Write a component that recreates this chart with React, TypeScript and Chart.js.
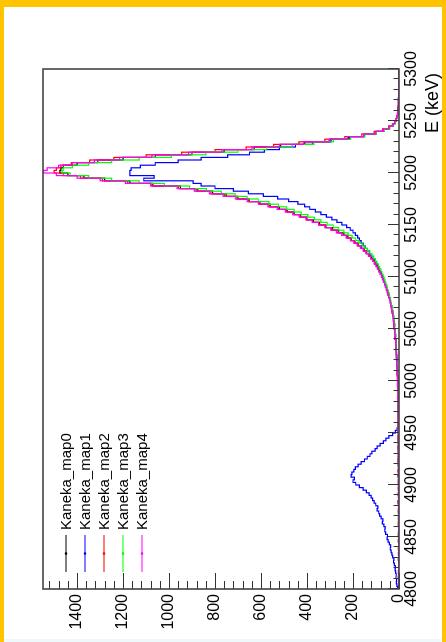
import { useEffect, useRef } from "react";
import { Chart, registerables } from "chart.js";

Chart.register(...registerables);

// Energy binning (keV)
const E_MIN = 4800;
const E_MAX = 5300;
const BIN_WIDTH = 2.5;
const COUNT_MAX = 1548;

const seriesNames = ["Kaneka_map0", "Kaneka_map1", "Kaneka_map2", "Kaneka_map3", "Kaneka_map4"];
const seriesColors = ["#000000", "#0000ff", "#ff0000", "#00ff00", "#ff00ff"];

const energyTicks = [4800, 4850, 4900, 4950, 5000, 5050, 5100, 5150, 5200, 5250, 5300];
const countTicks = [0, 200, 400, 600, 800, 1000, 1200, 1400];

// Bin contents, 2.5 keV bins from 4800 keV
const map0 = [
  2, 1, 0, 2, 1, 3, 1, 2, 0, 1, 2, 1, 3, 2, 1, 0, 2, 1, 2, 3,
  1, 2, 1, 0, 2, 3, 1, 2, 1, 2, 3, 2, 1, 2, 4, 2, 1, 3, 2, 2,
  1, 3, 2, 2, 4, 1, 3, 2, 3, 2, 4, 2, 3, 1, 3, 4, 2, 3, 4, 3,
  2, 4, 3, 5, 3, 4, 2, 4, 5, 3, 4, 5, 3, 6, 4, 5, 4, 6, 5, 4,
  5, 6, 5, 7, 6, 8, 7, 9, 8, 10, 9, 11, 12, 11, 13, 14, 13, 16, 15, 18,
  17, 20, 19, 22, 24, 23, 27, 29, 31, 30, 35, 37, 40, 43, 46, 50, 54, 57, 62, 66,
  70, 75, 80, 86, 92, 98, 105, 112, 120, 130, 141, 152, 165, 178, 192, 208, 222, 240, 262, 288,
  318, 345, 372, 400, 428, 456, 486, 520, 560, 605, 652, 700, 752, 810, 875, 950, 1070, 1170, 1280, 1370,
  1440, 1475, 1470, 1460, 1400, 1310, 1200, 1060, 900, 760, 630, 515, 410, 300, 220, 150, 100, 66, 42, 27,
  17, 11, 8, 6, 5, 4, 3, 3, 2, 3, 2, 1, 2, 1, 1, 2, 1, 0, 1, 1,
];

const map1 = [
  8, 6, 9, 11, 10, 13, 12, 15, 17, 16, 20, 24, 22, 28, 31, 34, 38, 36, 42, 47,
  52, 50, 58, 62, 60, 66, 72, 70, 78, 84, 88, 95, 92, 101, 108, 115, 121, 130, 142, 156,
  172, 188, 200, 194, 208, 205, 196, 190, 178, 165, 150, 138, 126, 118, 104, 95, 82, 68, 57, 44,
  28, 16, 8, 5, 4, 3, 4, 2, 3, 4, 3, 5, 3, 4, 4, 5, 3, 5, 4, 6,
  5, 6, 6, 7, 8, 7, 9, 8, 10, 9, 11, 12, 11, 13, 14, 13, 15, 17, 16, 18,
  18, 20, 21, 22, 23, 25, 26, 28, 30, 32, 34, 37, 39, 42, 45, 49, 52, 56, 60, 64,
  68, 72, 77, 82, 87, 93, 99, 106, 113, 121, 129, 138, 147, 156, 165, 172, 180, 190, 200, 212,
  228, 248, 270, 292, 316, 340, 364, 388, 410, 440, 480, 528, 590, 655, 720, 800, 860, 895, 1110, 1065,
  1170, 1170, 1165, 1125, 1060, 960, 860, 745, 650, 585, 520, 450, 375, 295, 215, 150, 100, 66, 42, 27,
  17, 11, 8, 6, 4, 4, 3, 2, 2, 2, 1, 1, 2, 1, 0, 1, 1, 1, 0, 1,
];

const map2 = [
  2, 1, 2, 0, 1, 2, 1, 3, 1, 2, 1, 2, 1, 2, 2, 1, 3, 2, 1, 2,
  2, 3, 1, 2, 1, 2, 3, 2, 2, 1, 2, 3, 2, 1, 3, 2, 2, 3, 1, 3,
  2, 2, 3, 2, 3, 2, 4, 2, 3, 3, 3, 4, 2, 3, 4, 3, 3, 2, 4, 4,
  3, 4, 3, 4, 5, 3, 4, 5, 4, 4, 5, 4, 6, 5, 4, 6, 5, 5, 6, 7,
  6, 7, 6, 8, 7, 9, 8, 8, 10, 11, 10, 12, 11, 13, 14, 15, 14, 17, 16, 19,
  19, 21, 20, 23, 25, 24, 28, 30, 30, 33, 35, 38, 41, 44, 47, 52, 55, 58, 63, 67,
  71, 76, 81, 87, 93, 99, 106, 114, 122, 132, 142, 154, 166, 180, 194, 210, 228, 248, 270, 294,
  320, 348, 376, 402, 430, 460, 490, 524, 565, 608, 655, 705, 758, 818, 882, 958, 1075, 1180, 1290, 1385,
  1460, 1500, 1490, 1470, 1425, 1345, 1240, 1100, 945, 800, 665, 545, 435, 322, 236, 162, 108, 71, 45, 29,
  19, 12, 8, 7, 4, 4, 3, 2, 3, 2, 1, 2, 1, 1, 2, 0, 1, 1, 1, 0,
];

const map3 = [
  1, 2, 1, 2, 1, 1, 2, 0, 2, 1, 2, 1, 1, 2, 1, 2, 2, 1, 2, 2,
  1, 3, 2, 1, 2, 1, 2, 3, 1, 2, 2, 2, 1, 3, 2, 2, 1, 3, 2, 2,
  3, 2, 2, 3, 1, 3, 2, 3, 3, 2, 3, 3, 2, 4, 3, 2, 3, 4, 3, 3,
  4, 3, 3, 4, 4, 3, 5, 3, 4, 5, 4, 4, 5, 4, 5, 6, 4, 5, 6, 5,
  6, 5, 6, 7, 6, 8, 8, 7, 9, 10, 9, 11, 10, 12, 13, 12, 14, 15, 15, 17,
  16, 19, 18, 21, 22, 22, 25, 27, 28, 29, 33, 35, 37, 41, 43, 46, 50, 53, 57, 61,
  65, 69, 74, 79, 84, 90, 96, 103, 110, 118, 127, 137, 148, 160, 173, 188, 204, 221, 240, 262,
  286, 312, 340, 368, 396, 426, 456, 488, 524, 566, 612, 660, 712, 772, 838, 910, 1020, 1130, 1250, 1350,
  1430, 1465, 1460, 1420, 1350, 1250, 1130, 990, 840, 700, 575, 465, 370, 285, 210, 148, 98, 64, 40, 26,
  16, 10, 7, 5, 4, 3, 3, 2, 2, 1, 2, 1, 1, 1, 0, 1, 1, 0, 1, 0,
];

const map4 = [
  1, 2, 1, 1, 2, 0, 2, 1, 2, 1, 1, 2, 2, 1, 3, 1, 2, 1, 1, 2,
  2, 1, 3, 2, 1, 2, 2, 1, 3, 2, 2, 1, 2, 3, 2, 1, 3, 2, 2, 3,
  2, 2, 3, 1, 2, 3, 3, 2, 2, 4, 3, 2, 3, 3, 2, 4, 3, 2, 3, 4,
  3, 3, 4, 2, 4, 3, 5, 4, 3, 4, 5, 4, 4, 5, 6, 4, 5, 5, 6, 5,
  6, 5, 7, 6, 7, 8, 7, 9, 10, 9, 11, 10, 12, 13, 12, 15, 14, 16, 17, 19,
  18, 21, 22, 21, 25, 26, 28, 27, 32, 34, 36, 39, 41, 45, 48, 51, 55, 59, 63, 68,
  72, 77, 82, 88, 94, 100, 108, 115, 124, 133, 144, 156, 168, 182, 196, 212, 230, 250, 272, 296,
  322, 350, 378, 405, 434, 462, 494, 530, 570, 612, 660, 712, 765, 825, 890, 965, 1080, 1190, 1300, 1400,
  1490, 1545, 1530, 1480, 1420, 1325, 1215, 1075, 915, 770, 640, 520, 415, 305, 225, 155, 102, 68, 44, 28,
  18, 12, 8, 6, 5, 3, 4, 2, 3, 2, 2, 1, 1, 2, 1, 1, 0, 1, 1, 0,
];

const seriesValues = [map0, map1, map2, map3, map4];

// Histogram outline: one point per lower bin edge, plus the upper edge of the last bin
function toSteps(values: number[]) {
  const pts = values.map((v, i) => ({ x: E_MIN + i * BIN_WIDTH, y: v }));
  pts.push({ x: E_MAX, y: values[values.length - 1] });
  return pts;
}

const FONT = '"Liberation Sans", Arial, Helvetica, sans-serif';

// Frame, inward ticks, axis title and legend in the ROOT style
const rootStyle = {
  id: "rootStyle",
  afterDraw(chart: any) {
    const { ctx, chartArea } = chart;
    const { left, right, top, bottom } = chartArea;
    const xs = chart.scales.x;
    const ys = chart.scales.y;
    ctx.save();

    // ticks
    ctx.strokeStyle = "#333";
    ctx.lineWidth = 1;
    ctx.beginPath();
    for (let e = E_MIN; e <= E_MAX + 0.01; e += 10) {
      const px = Math.round(xs.getPixelForValue(e)) + 0.5;
      const len = (e - E_MIN) % 50 === 0 ? 11 : 5.5;
      ctx.moveTo(px, bottom);
      ctx.lineTo(px, bottom - len);
    }
    for (let c = 0; c <= COUNT_MAX; c += 40) {
      const py = Math.round(ys.getPixelForValue(c)) + 0.5;
      const len = c % 200 === 0 ? 16 : 8;
      ctx.moveTo(left, py);
      ctx.lineTo(left + len, py);
    }
    ctx.stroke();

    // frame
    ctx.strokeStyle = "#444";
    ctx.lineWidth = 1.6;
    ctx.strokeRect(left, top, right - left, bottom - top);

    // axis title
    ctx.fillStyle = "#000";
    ctx.font = `18px ${FONT}`;
    ctx.textAlign = "right";
    ctx.textBaseline = "alphabetic";
    ctx.fillText("E (keV)", right - 4, 438);

    // legend
    chart.data.datasets.forEach((ds: any, k: number) => {
      const y = 66 + 19 * k;
      ctx.strokeStyle = ds.borderColor;
      ctx.lineWidth = 1.2;
      ctx.beginPath();
      ctx.moveTo(70, y);
      ctx.lineTo(107, y);
      ctx.stroke();
      ctx.fillStyle = ds.borderColor;
      ctx.beginPath();
      ctx.arc(88.5, y, 1.3, 0, Math.PI * 2);
      ctx.fill();
      ctx.fillStyle = "#000";
      ctx.font = `15px ${FONT}`;
      ctx.textAlign = "left";
      ctx.textBaseline = "middle";
      ctx.fillText(ds.label, 112, y + 1);
    });
    ctx.restore();
  },
};

export default function App() {
  const canvasRef = useRef<HTMLCanvasElement | null>(null);

  useEffect(() => {
    const canvas = canvasRef.current;
    if (!canvas) return;
    const chart = new Chart(canvas, {
      type: "line",
      data: {
        datasets: seriesValues.map((vals, k) => ({
          label: seriesNames[k],
          data: toSteps(vals),
          borderColor: seriesColors[k],
          backgroundColor: seriesColors[k],
          borderWidth: 1.2,
          pointRadius: 0,
          stepped: "after" as const,
          fill: false,
          order: seriesValues.length - 1 - k,
        })),
      },
      options: {
        responsive: false,
        animation: false,
        devicePixelRatio: 1,
        layout: { padding: { top: 43, right: 69, left: 0, bottom: 0 } },
        plugins: { legend: { display: false }, tooltip: { enabled: false } },
        scales: {
          x: {
            type: "linear",
            min: E_MIN,
            max: E_MAX,
            afterFit(s: any) {
              s.height = 47;
            },
            afterBuildTicks(s: any) {
              s.ticks = energyTicks.map((v) => ({ value: v }));
            },
            grid: { display: false, drawTicks: false },
            border: { display: false },
            ticks: {
              autoSkip: false,
              maxRotation: 0,
              padding: 3,
              color: "#000",
              font: { family: FONT, size: 16 },
              callback: (v: any) => String(v),
            },
          },
          y: {
            type: "linear",
            min: 0,
            max: COUNT_MAX,
            afterFit(s: any) {
              s.width = 53;
            },
            afterBuildTicks(s: any) {
              s.ticks = countTicks.map((v) => ({ value: v }));
            },
            grid: { display: false, drawTicks: false },
            border: { display: false },
            ticks: {
              autoSkip: false,
              padding: 5,
              color: "#000",
              font: { family: FONT, size: 16 },
              callback: (v: any) => String(v),
            },
          },
        },
      },
      plugins: [rootStyle],
    });
    return () => chart.destroy();
  }, []);

  return (
    <div
      style={{
        position: "fixed",
        left: 0,
        top: 0,
        width: 446,
        height: 642,
        background: "#ffc400",
        overflow: "hidden",
      }}
    >
      <div style={{ position: "absolute", left: 4, top: 7, width: 438, height: 632, background: "#ffffff" }} />
      <div style={{ position: "absolute", left: 4, top: 639, width: 438, height: 3, background: "#eef9fb" }} />
      <div
        style={{
          position: "absolute",
          left: -98,
          top: 98,
          width: 642,
          height: 446,
          transform: "rotate(-90deg)",
        }}
      >
        <canvas ref={canvasRef} width={642} height={446} style={{ width: 642, height: 446, display: "block" }} />
      </div>
    </div>
  );
}
